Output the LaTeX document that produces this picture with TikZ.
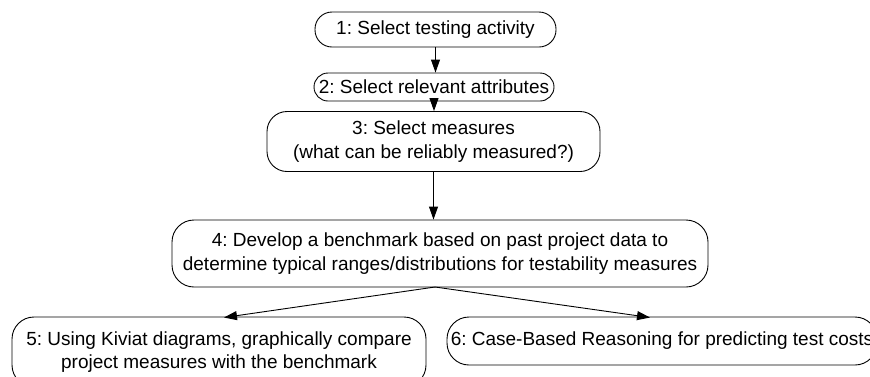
\documentclass[tikz,border=0pt]{standalone}
\usepackage{fontspec}
\setmainfont{Liberation Sans}
\frenchspacing
\usetikzlibrary{arrows.meta,positioning}
\tikzset{stage/.style={draw, line width=0.9pt, rounded corners=17pt, align=center,
        inner sep=0pt, font=\fontsize{19}{23.5}\selectfont},
    flow/.style={-{Triangle[length=13pt,width=9pt]}, line width=0.9pt}}

\begin{document}
\begin{tikzpicture}[x=1pt,y=-1pt]
            \useasboundingbox (0,0) rectangle (870,376);
            \node[stage, minimum width=241pt, minimum height=35pt] (sel) at (435.5,29.5)
                {1: Select testing activity};% first stage
            \node[stage, minimum width=240pt, minimum height=28pt, rounded corners=14pt] (attr) at (434,87)
                {2: Select relevant attributes};% attributes
            \node[stage, minimum width=333pt, minimum height=60pt, rounded corners=20pt] (meas) at (433.5,141.5)
                {3: Select measures\\(what can be reliably measured?)};% measures
            \node[stage, minimum width=536pt, minimum height=67pt, rounded corners=22pt] (bench) at (440,253.5)
                {4: Develop a benchmark based on past project data to\\determine typical ranges/distributions for testability measures};% benchmark
            \node[stage, minimum width=414pt, minimum height=70pt, rounded corners=22pt] (kiviat) at (219,352)
                {5: Using Kiviat diagrams, graphically compare\\project measures with the benchmark};% left leaf
            \node[stage, minimum width=430pt, minimum height=48pt, rounded corners=22pt] (cbr) at (662,341)
                {6: Case-Based Reasoning for predicting test costs};% right leaf
            % connectors
            \coordinate (fork) at (435,287);
            \draw[flow] (sel.south) -- (sel.south |- attr.north);
            \draw[flow] (attr.south) -- (attr.south |- meas.north);
            \draw[flow] (meas.south) -- (meas.south |- bench.north);
            \draw[flow] (fork) -- (224,317.5);
            \draw[flow] (fork) -- (650,317.5);
        \end{tikzpicture}
\end{document}
